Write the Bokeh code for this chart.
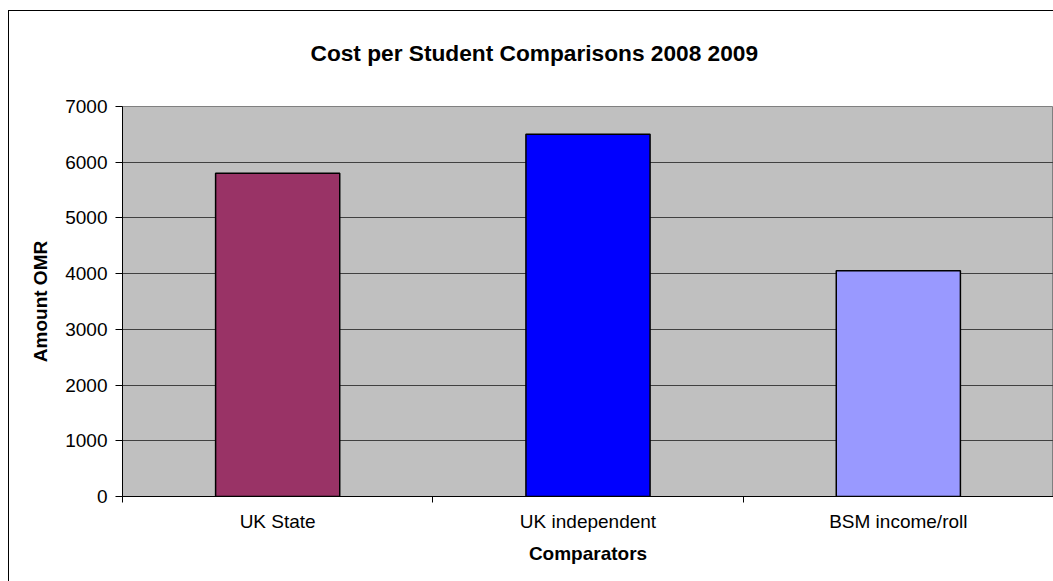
from bokeh.plotting import figure
from bokeh.models import Range1d, LinearAxis, FixedTicker, ColumnDataSource
from bokeh.embed import file_html
from bokeh.resources import INLINE

# ---- data ----
categories = ["UK State", "UK independent", "BSM income/roll"]
amounts = [5800, 6500, 4050]
y_ticks = [0, 1000, 2000, 3000, 4000, 5000, 6000, 7000]
bar_colors = ["#993366", "#0000FF", "#9999FF"]
chart_title = "Cost per Student Comparisons 2008 2009"

FONT = "Liberation Sans"

n = len(categories)
centers = [i + 0.5 for i in range(n)]          # category slot centres
bounds = list(range(n + 1))                     # category slot boundaries

source = ColumnDataSource(dict(x=centers, amount=amounts, color=bar_colors))

# outer chart border drawn as CSS background lines on the host element
host_bg = ("linear-gradient(#000,#000) 8px 10px / 1px 100% no-repeat, "
           "linear-gradient(#000,#000) 8px 10px / 100% 1px no-repeat, #ffffff")

p = figure(width=1053, height=581,
           x_range=Range1d(0, n),
           y_range=Range1d(0, 7000),
           output_backend="svg", toolbar_location=None,
           x_axis_location=None,
           min_border_left=122, min_border_right=0,
           min_border_top=106, min_border_bottom=85,
           background_fill_color="#C0C0C0", border_fill_color=None,
           title=chart_title,
           styles={"background": host_bg})

p.outline_line_color = "#808080"
p.outline_line_width = 1

# title: panel fills the top margin, text hung from its top
p.title.text_font = FONT
p.title.text_font_size = "22.7px"
p.title.text_font_style = "bold"
p.title.text_color = "black"
p.title.align = "left"
p.title.vertical_align = "top"
p.title.offset = 188
p.title.standoff = 78

# bars
p.vbar(x="x", top="amount", width=0.4, source=source,
       fill_color="color", line_color="black", line_width=1.5)

# grid
p.xgrid.visible = False
p.ygrid.grid_line_color = "#404040"
p.ygrid.grid_line_width = 1
p.ygrid.ticker = FixedTicker(ticks=y_ticks)

# y axis
ya = p.yaxis[0]
ya.ticker = FixedTicker(ticks=y_ticks)
ya.axis_line_color = "black"
ya.major_tick_line_color = "black"
ya.major_tick_out = 7
ya.major_tick_in = 0
ya.minor_tick_line_color = None
ya.major_label_standoff = 8
ya.major_label_text_font = FONT
ya.major_label_text_font_size = "19px"
ya.major_label_text_color = "black"
ya.axis_label = "Amount OMR"
ya.axis_label_text_font = FONT
ya.axis_label_text_font_size = "19px"
ya.axis_label_text_font_style = "bold"
ya.axis_label_text_color = "black"
ya.axis_label_standoff = 11

# x axis: labels at slot centres, tick marks (minor) at slot boundaries
xc = LinearAxis(ticker=FixedTicker(ticks=centers, minor_ticks=bounds))
xc.major_label_overrides = {c: name for c, name in zip(centers, categories)}
xc.axis_line_color = "black"
xc.major_tick_line_color = None
xc.major_tick_out = 6
xc.major_tick_in = 0
xc.minor_tick_line_color = "black"
xc.minor_tick_out = 6
xc.minor_tick_in = 0
xc.major_label_standoff = 8
xc.major_label_text_font = FONT
xc.major_label_text_font_size = "19px"
xc.major_label_text_color = "black"
xc.axis_label = "Comparators"
xc.axis_label_text_font = FONT
xc.axis_label_text_font_size = "19px"
xc.axis_label_text_font_style = "bold"
xc.axis_label_text_color = "black"
xc.axis_label_standoff = 8
p.add_layout(xc, "below")

open("out.html", "w").write(file_html(p, INLINE))
